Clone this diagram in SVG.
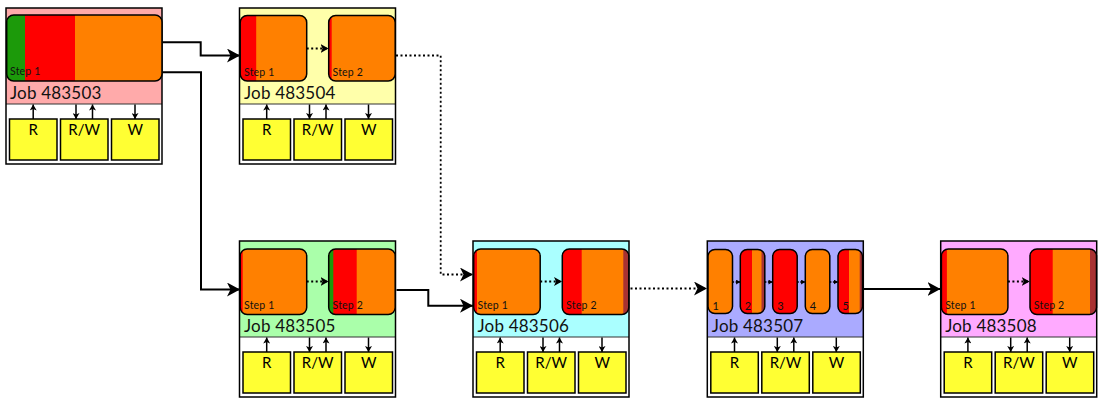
<svg xmlns="http://www.w3.org/2000/svg" width="1105" height="405" viewBox="0 0 1105 405">
<style>
.bg{fill:#fff}
.border{fill:none;stroke:#000;stroke-width:1.5}
.div{stroke:#333;stroke-width:1.2}
.so{fill:none;stroke:#000;stroke-width:1.5}
.io{fill:#ffff33;stroke:#000;stroke-width:1.5}
.iot{font-family:Lato,"Liberation Sans",sans-serif;font-size:15px;text-anchor:middle;fill:#000}
.jt{font-family:Lato,"Liberation Sans",sans-serif;font-size:17px;letter-spacing:0.2px;fill:#111}
.st{font-family:Lato,"Liberation Sans",sans-serif;font-size:10.5px;letter-spacing:0.2px;fill:#111}
.pt{font-family:Lato,"Liberation Sans",sans-serif;font-size:11px;fill:#111}
.ioa{stroke:#000;stroke-width:1.5;fill:none}
.conn{fill:none;stroke:#000;stroke-width:2}
.dot{fill:none;stroke:#000;stroke-width:1.8;stroke-dasharray:2 2.5}
.g{fill:#1c9a0a}.r{fill:#ff0000}.o{fill:#ff8000}.b{fill:#a83232}
</style>
<defs>
<marker id="big" markerUnits="userSpaceOnUse" markerWidth="14" markerHeight="14" refX="13" refY="7" orient="auto"><path d="M0,0 L13,7 L0,14 L3.5,7 z" fill="#000"/></marker>
<marker id="med" markerUnits="userSpaceOnUse" markerWidth="9" markerHeight="9" refX="8" refY="4.5" orient="auto"><path d="M0,0 L8,4.5 L0,9 L2,4.5 z" fill="#000"/></marker>
<marker id="sm" markerUnits="userSpaceOnUse" markerWidth="7" markerHeight="7" refX="6" refY="3.5" orient="auto"><path d="M0,0 L6,3.5 L0,7 L1.5,3.5 z" fill="#000"/></marker>
<marker id="tiny" markerUnits="userSpaceOnUse" markerWidth="5" markerHeight="5" refX="4" refY="2.5" orient="auto"><path d="M0,0 L4,2.5 L0,5 z" fill="#000"/></marker>
<clipPath id="c-big"><rect width="155.3" height="66" rx="7"/></clipPath>
<clipPath id="c-step"><rect width="66.5" height="65.5" rx="7"/></clipPath>
<clipPath id="c-pill"><rect width="24.5" height="64" rx="7"/></clipPath>
<g id="io-block">
<rect class="io" x="3.5" y="111" width="47.5" height="41"/>
<rect class="io" x="54.5" y="111" width="47.5" height="41"/>
<rect class="io" x="105.5" y="111" width="47.5" height="41"/>
<text class="iot" x="27.2" y="127">R</text>
<text class="iot" x="78.2" y="127">R/W</text>
<text class="iot" x="129.2" y="127">W</text>
<line class="ioa" x1="27.2" y1="111" x2="27.2" y2="96.5" marker-end="url(#sm)"/>
<line class="ioa" x1="70" y1="96.5" x2="70" y2="111" marker-end="url(#sm)"/>
<line class="ioa" x1="86.5" y1="111" x2="86.5" y2="96.5" marker-end="url(#sm)"/>
<line class="ioa" x1="129" y1="96.5" x2="129" y2="111" marker-end="url(#sm)"/>
</g>
</defs>

<g id="connectors">
<path class="conn" d="M162.5,42.3 H200.7 V55.5 H240" marker-end="url(#big)"/>
<path class="conn" d="M162.5,72.3 H201 V289.5 H240" marker-end="url(#big)"/>
<path class="dot" d="M396,55.5 H440.7 V274.5 H473" marker-end="url(#big)"/>
<path class="conn" d="M396.5,290 H428.3 V305.7 H473" marker-end="url(#big)"/>
<path class="dot" d="M630.5,288.5 H707" marker-end="url(#big)"/>
<path class="conn" d="M863.5,289 H940.5" marker-end="url(#big)"/>
</g>

<g id="job-483503" transform="translate(6,8)">
<rect class="bg" width="156" height="156"/>
<rect width="156" height="96" fill="#ffaaaa"/>
<line class="div" x1="0" y1="96" x2="156" y2="96"/>
<rect class="border" width="156" height="156"/>
<g transform="translate(0.7,7)">
<g clip-path="url(#c-big)"><rect class="g" width="18.3" height="66"/><rect class="r" x="18.3" width="50" height="66"/><rect class="o" x="68.3" width="87" height="66"/></g>
<rect class="so" width="155.3" height="66" rx="7"/>
<text class="st" x="3.3" y="60">Step 1</text>
</g>
<text class="jt" x="4" y="91">Job 483503</text>
<use href="#io-block"/>
</g>

<g id="job-483504" transform="translate(239.5,8)">
<rect class="bg" width="156" height="156"/>
<rect width="156" height="96" fill="#ffffaa"/>
<line class="div" x1="0" y1="96" x2="156" y2="96"/>
<rect class="border" width="156" height="156"/>
<g transform="translate(0.7,7.5)">
<g clip-path="url(#c-step)"><rect class="o" width="66.5" height="65.5"/><rect class="r" width="16" height="65.5"/></g>
<rect class="so" width="66.5" height="65.5" rx="7"/>
<text class="st" x="3.8" y="60">Step 1</text>
</g>
<g transform="translate(89.2,7.5)">
<g clip-path="url(#c-step)"><rect class="o" width="66.5" height="65.5"/><rect class="r" width="3" height="65.5"/></g>
<rect class="so" width="66.5" height="65.5" rx="7"/>
<text class="st" x="3.8" y="60">Step 2</text>
</g>
<line class="dot" x1="67.2" y1="40.5" x2="89" y2="40.5" stroke-width="1.5" marker-end="url(#med)"/>
<text class="jt" x="4.5" y="91">Job 483504</text>
<use href="#io-block"/>
</g>

<g id="job-483505" transform="translate(239.5,241)">
<rect class="bg" width="156" height="156"/>
<rect width="156" height="96" fill="#aaffaa"/>
<line class="div" x1="0" y1="96" x2="156" y2="96"/>
<rect class="border" width="156" height="156"/>
<g transform="translate(0.7,8)">
<g clip-path="url(#c-step)"><rect class="o" width="66.5" height="65.5"/><rect class="r" width="2.5" height="65.5"/></g>
<rect class="so" width="66.5" height="65.5" rx="7"/>
<text class="st" x="3.8" y="60">Step 1</text>
</g>
<g transform="translate(89.2,8)">
<g clip-path="url(#c-step)"><rect class="o" width="66.5" height="65.5"/><rect class="r" width="28" height="65.5"/><rect class="g" width="4.6" height="65.5"/></g>
<rect class="so" width="66.5" height="65.5" rx="7"/>
<text class="st" x="3.8" y="60">Step 2</text>
</g>
<line class="dot" x1="67.2" y1="40.5" x2="89" y2="40.5" stroke-width="1.5" marker-end="url(#med)"/>
<text class="jt" x="4.5" y="91">Job 483505</text>
<use href="#io-block"/>
</g>

<g id="job-483506" transform="translate(473,241)">
<rect class="bg" width="156" height="156"/>
<rect width="156" height="96" fill="#aaffff"/>
<line class="div" x1="0" y1="96" x2="156" y2="96"/>
<rect class="border" width="156" height="156"/>
<g transform="translate(0.7,8)">
<g clip-path="url(#c-step)"><rect class="o" width="66.5" height="65.5"/><rect class="r" width="3.3" height="65.5"/></g>
<rect class="so" width="66.5" height="65.5" rx="7"/>
<text class="st" x="3.8" y="60">Step 1</text>
</g>
<g transform="translate(89.3,8)">
<g clip-path="url(#c-step)"><rect class="o" width="66.5" height="65.5"/><rect class="r" width="19.4" height="65.5"/><rect class="b" x="61" width="6" height="65.5"/></g>
<rect class="so" width="66.5" height="65.5" rx="7"/>
<text class="st" x="3.8" y="60">Step 2</text>
</g>
<line class="dot" x1="67.2" y1="40.5" x2="89" y2="40.5" stroke-width="1.5" marker-end="url(#med)"/>
<text class="jt" x="4.5" y="91">Job 483506</text>
<use href="#io-block"/>
</g>

<g id="job-483507" transform="translate(707.3,241)">
<rect class="bg" width="156" height="156"/>
<rect width="156" height="96" fill="#aaaaff"/>
<line class="div" x1="0" y1="96" x2="156" y2="96"/>
<rect class="border" width="156" height="156"/>
<g transform="translate(0.7,8.5)">
<g clip-path="url(#c-pill)"><rect class="o" width="24.5" height="64"/></g>
<rect class="so" width="24.5" height="64" rx="7"/>
<text class="pt" x="4.5" y="60.5">1</text>
</g>
<g transform="translate(33,8.5)">
<g clip-path="url(#c-pill)"><rect class="o" width="24.5" height="64"/><rect class="r" width="11.7" height="64"/><rect class="b" x="21.2" width="3.3" height="64"/></g>
<rect class="so" width="24.5" height="64" rx="7"/>
<text class="pt" x="4.5" y="60.5">2</text>
</g>
<g transform="translate(65.4,8.5)">
<g clip-path="url(#c-pill)"><rect class="r" width="24.5" height="64"/></g>
<rect class="so" width="24.5" height="64" rx="7"/>
<text class="pt" x="4.5" y="60.5">3</text>
</g>
<g transform="translate(98,8.5)">
<g clip-path="url(#c-pill)"><rect class="o" width="24.5" height="64"/></g>
<rect class="so" width="24.5" height="64" rx="7"/>
<text class="pt" x="4.5" y="60.5">4</text>
</g>
<g transform="translate(130.7,8.5)">
<g clip-path="url(#c-pill)"><rect class="o" width="24.5" height="64"/><rect class="r" width="11" height="64"/><rect class="b" x="21.7" width="2.8" height="64"/></g>
<rect class="so" width="24.5" height="64" rx="7"/>
<text class="pt" x="4.5" y="60.5">5</text>
</g>
<line class="ioa" x1="25.3" y1="41" x2="32.8" y2="41" stroke-dasharray="1.5 1.5" stroke-width="1.2" marker-end="url(#tiny)"/>
<line class="ioa" x1="57.6" y1="41" x2="65.2" y2="41" stroke-dasharray="1.5 1.5" stroke-width="1.2" marker-end="url(#tiny)"/>
<line class="ioa" x1="90" y1="41" x2="97.8" y2="41" stroke-dasharray="1.5 1.5" stroke-width="1.2" marker-end="url(#tiny)"/>
<line class="ioa" x1="122.6" y1="41" x2="130.5" y2="41" stroke-dasharray="1.5 1.5" stroke-width="1.2" marker-end="url(#tiny)"/>
<text class="jt" x="4.5" y="91">Job 483507</text>
<use href="#io-block"/>
</g>

<g id="job-483508" transform="translate(940.7,241)">
<rect class="bg" width="156" height="156"/>
<rect width="156" height="96" fill="#ffaaff"/>
<line class="div" x1="0" y1="96" x2="156" y2="96"/>
<rect class="border" width="156" height="156"/>
<g transform="translate(0.7,8)">
<g clip-path="url(#c-step)"><rect class="o" width="66.5" height="65.5"/><rect class="r" width="5.5" height="65.5"/></g>
<rect class="so" width="66.5" height="65.5" rx="7"/>
<text class="st" x="3.8" y="60">Step 1</text>
</g>
<g transform="translate(89.3,8)">
<g clip-path="url(#c-step)"><rect class="o" width="66.5" height="65.5"/><rect class="r" width="22.7" height="65.5"/><rect class="b" x="60" width="6.5" height="65.5"/></g>
<rect class="so" width="66.5" height="65.5" rx="7"/>
<text class="st" x="3.8" y="60">Step 2</text>
</g>
<line class="dot" x1="67.2" y1="40.5" x2="89" y2="40.5" stroke-width="1.5" marker-end="url(#med)"/>
<text class="jt" x="4.5" y="91">Job 483508</text>
<use href="#io-block"/>
</g>
</svg>
